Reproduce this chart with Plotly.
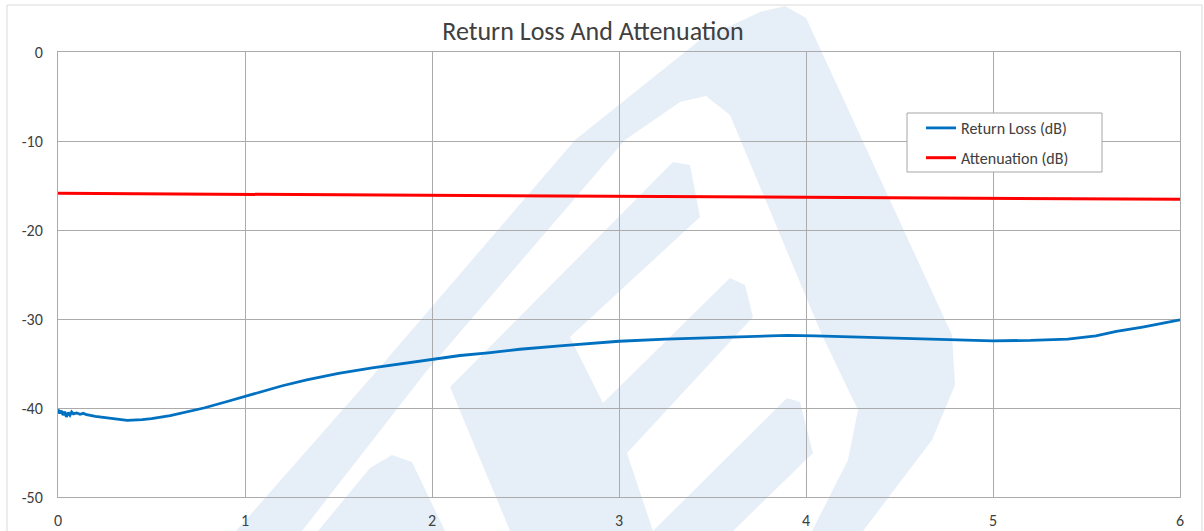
import plotly.graph_objects as go

# ---------------- data ----------------
rl_freq = [0.0, 0.009, 0.018, 0.027, 0.036, 0.045, 0.055, 0.064, 0.073, 0.082, 0.1, 0.118, 0.135, 0.153,
           0.2, 0.25, 0.3, 0.37, 0.45, 0.5, 0.6, 0.7, 0.78, 0.9, 1.0, 1.1, 1.2, 1.33, 1.5, 1.68, 1.85,
           2.0, 2.15, 2.3, 2.47, 2.7, 3.0, 3.25, 3.54, 3.75, 3.9, 4.05, 4.2, 4.5, 4.75, 5.0, 5.2, 5.4,
           5.55, 5.66, 5.8, 5.9, 6.0]
rl_db = [-40.15, -40.6, -40.3, -40.8, -40.4, -41.0, -40.5, -40.8, -40.45, -40.67, -40.55, -40.7, -40.6, -40.75,
         -40.95, -41.1, -41.25, -41.4, -41.3, -41.2, -40.85, -40.4, -40.0, -39.3, -38.7, -38.1, -37.5, -36.85,
         -36.1, -35.5, -35.0, -34.6, -34.1, -33.8, -33.4, -33.0, -32.5, -32.25, -32.1, -31.95, -31.85, -31.9,
         -32.0, -32.15, -32.35, -32.45, -32.4, -32.25, -31.9, -31.4, -30.9, -30.5, -30.1]

att_freq = [0, 1, 2, 3, 4, 5, 6]
att_db = [-15.88, -16.0, -16.1, -16.2, -16.32, -16.45, -16.55]

x_ticks = [0, 1, 2, 3, 4, 5, 6]
y_ticks = [0, -10, -20, -30, -40, -50]

title_text = "Return Loss And Attenuation"
names = ["Return Loss (dB)", "Attenuation (dB)"]

# ---------------- layout geometry ----------------
W, H = 1204, 531
ML, MR, MT, MB = 58, 24, 52, 34
PW, PH = W - ML - MR, H - MT - MB


def px(xp):
    return (xp - ML) / PW


def py(yp):
    return (H - MB - yp) / PH


def path_from(polys):
    parts = []
    for poly in polys:
        pts = ["%s%.4f,%.4f" % ("M" if i == 0 else "L", px(a), py(b)) for i, (a, b) in enumerate(poly)]
        parts.append(" ".join(pts) + " Z")
    return " ".join(parts)


WM = "rgba(214,228,242,0.6)"

# watermark (decorative logo), pixel outlines
ring_outer = [(236, 531), (375, 373), (575, 140), (700, 40), (760, 12), (785, 6), (806, 18), (830, 70),
              (952, 335), (955, 385), (932, 440), (863, 531)]
ring_inner = [(302, 531), (425, 373), (625, 140), (680, 102), (706, 96), (730, 115), (822, 335),
              (858, 410), (848, 460), (812, 531)]
chev_main = [(450, 387), (673, 162), (690, 165), (700, 217), (570, 337), (603, 403), (627, 453),
             (653, 531), (510, 531)]
chev_3 = [(603, 403), (730, 278), (745, 285), (753, 317), (627, 453)]
chev_4 = [(653, 531), (787, 398), (800, 402), (813, 453), (733, 531)]
hump = [(318, 531), (370, 468), (392, 455), (412, 462), (445, 531)]

shapes = [
    dict(type="path", xref="paper", yref="paper", path=path_from([ring_outer, ring_inner]),
         fillcolor=WM, line=dict(width=0), layer="below", fillrule="evenodd"),
    dict(type="path", xref="paper", yref="paper", path=path_from([chev_main]),
         fillcolor=WM, line=dict(width=0), layer="below"),
    dict(type="path", xref="paper", yref="paper", path=path_from([chev_3]),
         fillcolor=WM, line=dict(width=0), layer="below"),
    dict(type="path", xref="paper", yref="paper", path=path_from([chev_4]),
         fillcolor=WM, line=dict(width=0), layer="below"),
    dict(type="path", xref="paper", yref="paper", path=path_from([hump]),
         fillcolor=WM, line=dict(width=0), layer="below"),
    # outer chart frame
    dict(type="rect", xref="paper", yref="paper", x0=px(7), x1=px(1202), y0=py(540), y1=py(5),
         line=dict(color="#d9d9d9", width=1), fillcolor="rgba(0,0,0,0)", layer="above"),
    # legend box
    dict(type="rect", xref="paper", yref="paper", x0=px(907), x1=px(1102), y0=py(172), y1=py(113),
         line=dict(color="#a6a6a6", width=1), fillcolor="white", layer="above"),
]

FONT = "Calibri, Carlito, Lato, sans-serif"

fig = go.Figure()
fig.add_trace(go.Scatter(x=rl_freq, y=rl_db, mode="lines", name=names[0], legendgroup="a",
                         line=dict(color="#0070c0", width=2.8)))
fig.add_trace(go.Scatter(x=att_freq, y=att_db, mode="lines", name=names[1], legendgroup="b",
                         line=dict(color="#ff0000", width=3)))

fig.update_layout(
    width=W, height=H,
    margin=dict(l=ML, r=MR, t=MT, b=MB, pad=0, autoexpand=False),
    paper_bgcolor="white", plot_bgcolor="rgba(0,0,0,0)",
    title=dict(text=title_text, x=px(593), xref="paper", xanchor="center",
               y=1 - 31 / H, yanchor="middle",
               font=dict(family=FONT, size=26, color="#404040")),
    font=dict(family=FONT, size=16, color="#404040"),
    showlegend=True,
    legend=dict(x=px(921), y=py(111), xanchor="left", yanchor="top",
                bgcolor="rgba(0,0,0,0)", borderwidth=0,
                font=dict(family=FONT, size=16, color="#404040"),
                traceorder="grouped", tracegroupgap=6),
    shapes=shapes,
)
fig.update_xaxes(range=[0, 6], tickvals=x_ticks, ticktext=[str(v) for v in x_ticks],
                 showgrid=True, gridcolor="#ababab", gridwidth=1, zeroline=False,
                 showline=True, linecolor="#ababab", linewidth=1, mirror=True,
                 ticks="", ticklabelstandoff=9, automargin=False, fixedrange=True)
fig.update_yaxes(range=[-50, 0], tickvals=y_ticks, ticktext=[str(v) for v in y_ticks],
                 showgrid=True, gridcolor="#ababab", gridwidth=1, zeroline=False,
                 showline=True, linecolor="#ababab", linewidth=1, mirror=True,
                 ticks="", ticklabelstandoff=11, automargin=False, fixedrange=True)

fig.write_html("out.html", config={"displayModeBar": False},
               post_script="document.body.style.margin='0px';document.body.style.padding='0px';")
